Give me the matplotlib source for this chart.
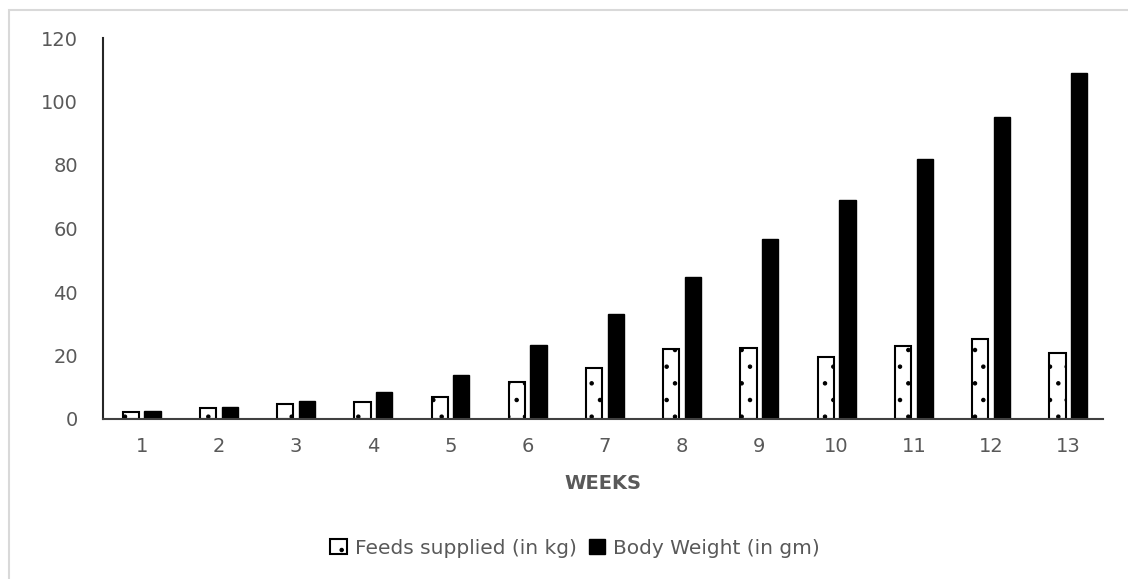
import matplotlib.pyplot as plt
import matplotlib.patches as mpatches
import numpy as np

weeks = [str(w) for w in range(1, 14)]
feeds_kg = [2.3, 3.4, 4.6, 5.2, 6.9, 11.7, 16.0, 22.0, 22.5, 19.6, 23.1, 25.3, 20.8]
body_weight_gm = [2.4, 3.9, 5.7, 8.6, 13.9, 23.3, 33.0, 44.7, 56.7, 69.0, 81.8, 95.1, 109.1]
y_ticks = [0, 20, 40, 60, 80, 100, 120]

text_color = '#595959'
plt.rcParams['font.family'] = 'DejaVu Sans'
plt.rcParams['hatch.linewidth'] = 0.8

fig = plt.figure(figsize=(11.28, 5.79), dpi=100)
ax = fig.add_axes([103 / 1128, 1 - 419 / 579, 1000 / 1128, 381 / 579])

# chart area border (only top and left edges fall inside the picture)
fig.patches.append(mpatches.Rectangle((9 / 1128, -0.05), 1.1, 1.05 - 10 / 579,
                                      transform=fig.transFigure, fill=False,
                                      edgecolor='#d9d9d9', linewidth=1.5))

x = np.arange(1, len(weeks) + 1)
bw = 0.21
ax.bar(x - 0.14, feeds_kg, bw, color='white', edgecolor='black',
       linewidth=1.5, hatch='.', label='Feeds supplied (in kg)')
ax.bar(x + 0.14, body_weight_gm, bw, color='black', edgecolor='black',
       linewidth=1, label='Body Weight (in gm)')

ax.set_xlim(0.5, 13.45)
ax.set_ylim(0, 120)
ax.set_xticks(x)
ax.set_xticklabels(weeks)
ax.set_yticks(y_ticks)

for s in ['top', 'right']:
    ax.spines[s].set_visible(False)
ax.spines['left'].set_color('#262626')
ax.spines['left'].set_linewidth(1.5)
ax.spines['bottom'].set_color('#404040')
ax.spines['bottom'].set_linewidth(1.5)
ax.tick_params(axis='both', length=0, labelsize=14, colors=text_color)
ax.tick_params(axis='y', pad=18)
ax.tick_params(axis='x', pad=13)

ax.set_xlabel('WEEKS', fontsize=14, fontweight='bold', color=text_color, labelpad=13)

leg = fig.legend(loc='center', bbox_to_anchor=(575 / 1128, 1 - 548 / 579), ncol=2,
                 frameon=False, fontsize=14.5, handlelength=0.8, handleheight=0.8,
                 handletextpad=0.4, columnspacing=0.6)
for t in leg.get_texts():
    t.set_color(text_color)

fig.savefig('out.png', dpi=100)
